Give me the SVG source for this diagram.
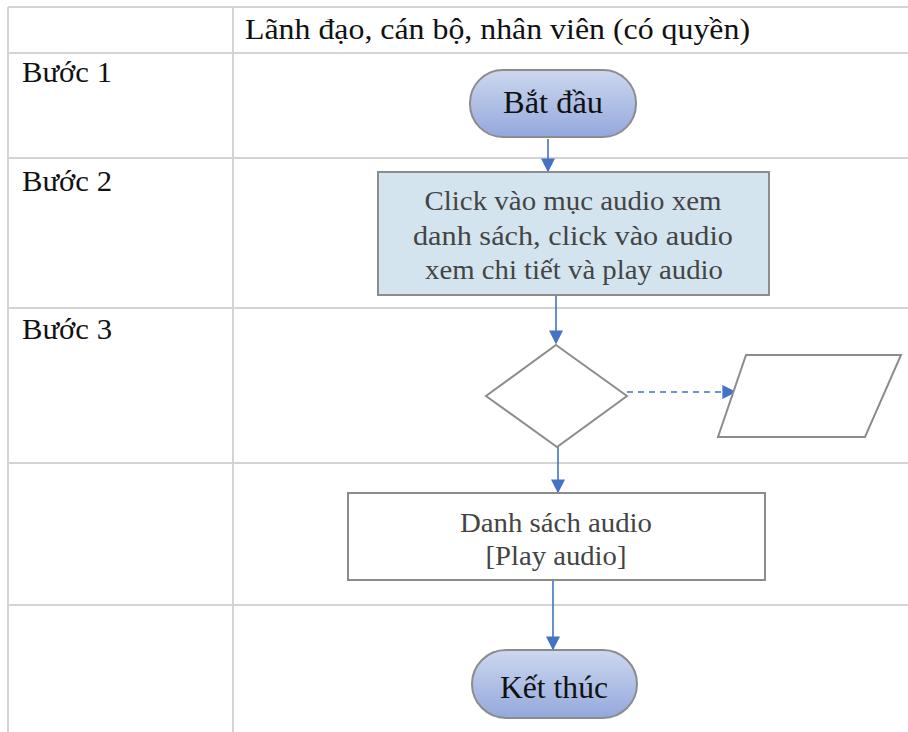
<svg xmlns="http://www.w3.org/2000/svg" width="908" height="732" viewBox="0 0 908 732">
<style>
.grid{stroke:#d4d4d4;stroke-width:2;fill:none}
.t{font-family:"Liberation Serif","Times New Roman",serif;fill:#111}
.nt{font-family:"Liberation Serif","Times New Roman",serif;fill:#444;font-size:27px;text-anchor:middle}
.conn{stroke:#4472c4;stroke-width:1.6;fill:none}
.shape{stroke:#8c8c8c;stroke-width:2}
</style>
<defs>
<linearGradient id="pill" x1="0" y1="0" x2="0" y2="1">
<stop offset="0" stop-color="#cdd8ef"/>
<stop offset="1" stop-color="#93a8dc"/>
</linearGradient>
<marker id="ah" viewBox="0 0 10 10" refX="9" refY="5" markerWidth="14" markerHeight="14" markerUnits="userSpaceOnUse" orient="auto">
<path d="M0,0 L10,5 L0,10 z" fill="#4472c4"/>
</marker>
</defs>
<rect width="908" height="732" fill="#fff"/>
<g id="table">
<path class="grid" d="M8,7 H908 M8,53 H908 M8,158 H908 M8,308 H908 M8,463 H908 M8,605 H908 M8,7 V732 M233,7 V732"/>
<text class="t" x="245" y="39" font-size="29" textLength="505" lengthAdjust="spacingAndGlyphs">Lãnh đạo, cán bộ, nhân viên (có quyền)</text>
<text class="t" x="22" y="82" font-size="29" textLength="90" lengthAdjust="spacingAndGlyphs">Bước 1</text>
<text class="t" x="22" y="191" font-size="29" textLength="90" lengthAdjust="spacingAndGlyphs">Bước 2</text>
<text class="t" x="22" y="339" font-size="29" textLength="90" lengthAdjust="spacingAndGlyphs">Bước 3</text>
</g>
<g id="connectors">
<line class="conn" x1="548" y1="139" x2="548" y2="171" marker-end="url(#ah)"/>
<line class="conn" x1="556" y1="296" x2="556" y2="343" marker-end="url(#ah)"/>
<line class="conn" x1="627" y1="392" x2="735" y2="392" stroke-dasharray="6,5" marker-end="url(#ah)"/>
<line class="conn" x1="558" y1="447" x2="558" y2="492" marker-end="url(#ah)"/>
<line class="conn" x1="553" y1="581" x2="553" y2="649" marker-end="url(#ah)"/>
</g>
<g id="start">
<rect class="shape" x="470" y="70" width="166" height="67" rx="33" fill="url(#pill)"/>
<text class="t" x="553" y="113" font-size="31" text-anchor="middle" textLength="100" lengthAdjust="spacingAndGlyphs">Bắt đầu</text>
</g>
<g id="step2">
<rect class="shape" x="378" y="172" width="391" height="123" fill="#d3e4ee"/>
<text class="nt" x="573" y="210" textLength="297" lengthAdjust="spacingAndGlyphs">Click vào mục audio xem</text>
<text class="nt" x="573" y="245" textLength="320" lengthAdjust="spacingAndGlyphs">danh sách, click vào audio</text>
<text class="nt" x="574" y="279" textLength="298" lengthAdjust="spacingAndGlyphs">xem chi tiết và play audio</text>
</g>
<g id="decision">
<polygon class="shape" points="556,345 627,396 557,447 486,396" fill="#fff"/>
</g>
<g id="data">
<polygon class="shape" points="746,355 901,355 865,437 718,437" fill="#fff"/>
</g>
<g id="list">
<rect class="shape" x="348" y="493" width="417" height="87" fill="#fff"/>
<text class="nt" x="556" y="532" textLength="192" lengthAdjust="spacingAndGlyphs">Danh sách audio</text>
<text class="nt" x="556" y="565" textLength="141" lengthAdjust="spacingAndGlyphs">[Play audio]</text>
</g>
<g id="end">
<rect class="shape" x="472" y="650" width="165" height="68" rx="34" fill="url(#pill)"/>
<text class="t" x="554" y="698" font-size="31" text-anchor="middle" textLength="108" lengthAdjust="spacingAndGlyphs">Kết thúc</text>
</g>
</svg>
